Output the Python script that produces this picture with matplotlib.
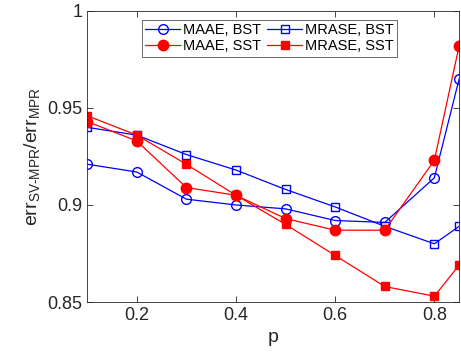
import numpy as np
import matplotlib.pyplot as plt

plt.rcParams['font.family'] = ['Liberation Sans', 'DejaVu Sans']
plt.rcParams['mathtext.fontset'] = 'custom'
plt.rcParams['mathtext.rm'] = 'Liberation Sans'
plt.rcParams['mathtext.it'] = 'Liberation Sans'

# データ
p = [0.1, 0.2, 0.3, 0.4, 0.5, 0.6, 0.7, 0.8, 0.85]
maae_bst = [0.921, 0.917, 0.903, 0.900, 0.898, 0.892, 0.891, 0.914, 0.965]
mrase_bst = [0.940, 0.936, 0.926, 0.918, 0.908, 0.899, 0.889, 0.880, 0.889]
maae_sst = [0.943, 0.933, 0.909, 0.905, 0.893, 0.887, 0.887, 0.923, 0.982]
mrase_sst = [0.946, 0.936, 0.921, 0.905, 0.890, 0.874, 0.858, 0.853, 0.869]

fig = plt.figure(figsize=(4.61, 3.63), dpi=100)
ax = fig.add_axes([0.189, 0.168, 0.807, 0.802])

h1, = ax.plot(p, maae_bst, '-o', color='b', mfc='none', ms=7, lw=0.9, label='MAAE, BST')
h2, = ax.plot(p, mrase_bst, '-s', color='b', mfc='none', ms=5.5, lw=0.9, label='MRASE, BST')
h3, = ax.plot(p, maae_sst, '-o', color='r', ms=7.5, lw=0.9, label='MAAE, SST')
h4, = ax.plot(p, mrase_sst, '-s', color='r', ms=5.5, lw=0.9, label='MRASE, SST')

ax.set_xlim(0.1, 0.85)
ax.set_ylim(0.85, 1.0)
ax.set_xticks([0.2, 0.4, 0.6, 0.8])
ax.set_xticklabels(['0.2', '0.4', '0.6', '0.8'])
ax.set_yticks([0.85, 0.9, 0.95, 1.0])
ax.set_yticklabels(['0.85', '0.9', '0.95', '1'])

gray = '#262626'
ax.tick_params(direction='in', top=True, right=True, labelsize=13, colors=gray,
               length=4, width=0.6)
for s in ax.spines.values():
    s.set_color(gray)
    s.set_linewidth(0.6)

ax.set_xlabel('p', fontsize=14, color=gray)
ax.set_ylabel(r'err$_{\mathrm{SV\text{-}MPR}}$/err$_{\mathrm{MPR}}$', fontsize=14, color=gray)

# 凡例（行ごとに並べる）
hs = [h1, h3, h2, h4]
leg = ax.legend(hs, [h.get_label() for h in hs], ncol=2, loc='upper center',
                bbox_to_anchor=(0.49, 0.97), fontsize=10.5,
                frameon=True, fancybox=False, handlelength=2.4, columnspacing=0.4,
                handletextpad=0.2, borderpad=0.25, labelspacing=0.15, borderaxespad=0)
leg.get_frame().set_edgecolor(gray)
leg.get_frame().set_linewidth(0.6)

fig.savefig('out.png', dpi=100)
